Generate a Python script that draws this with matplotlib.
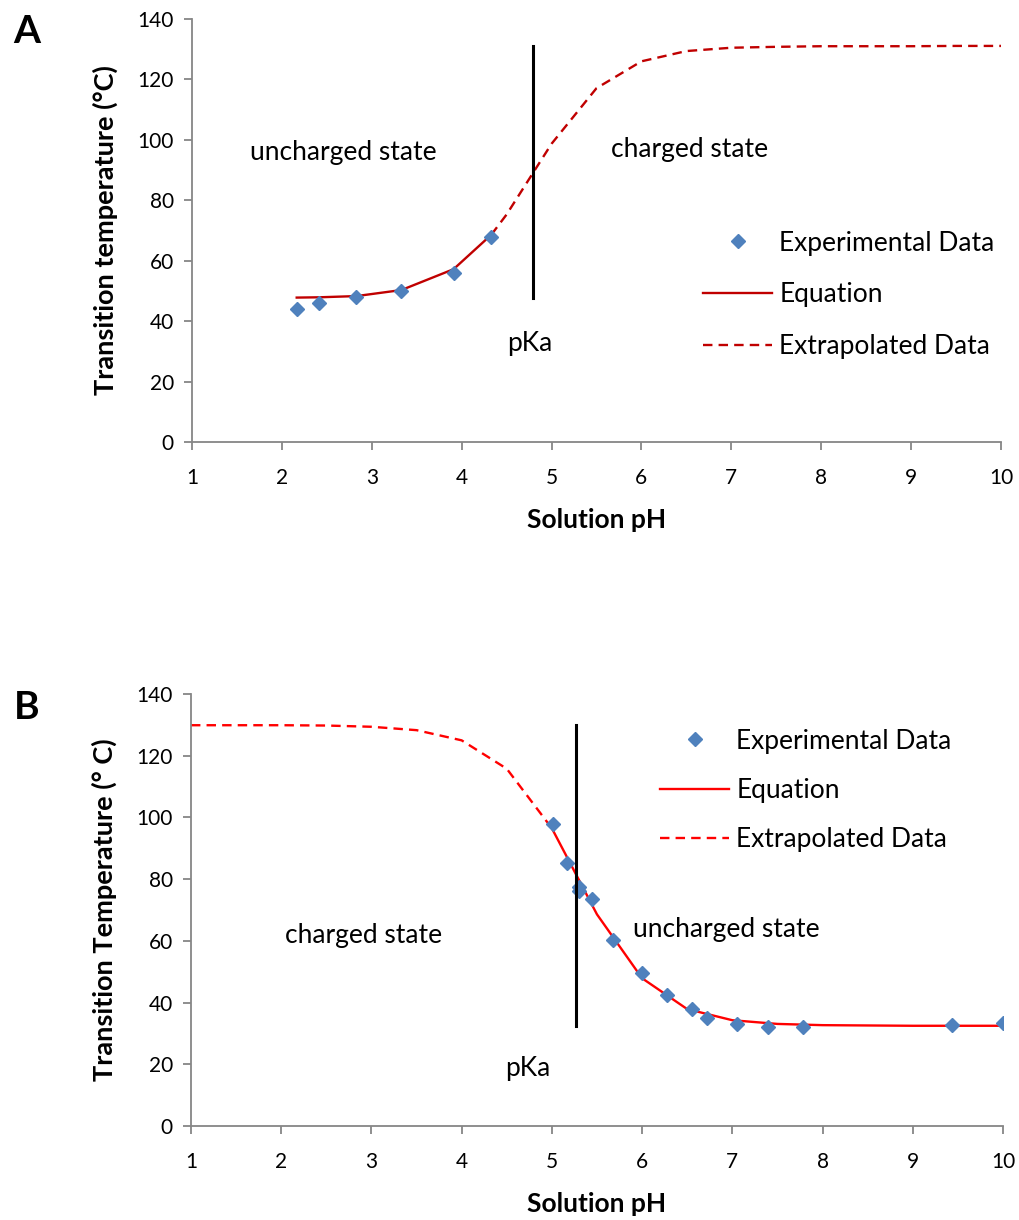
import matplotlib
matplotlib.use('Agg')
import matplotlib.pyplot as plt
from matplotlib.lines import Line2D

plt.rcParams['font.family'] = ['Lato', 'DejaVu Sans']

# panel A
a_exp_ph = [2.165, 2.416, 2.83, 3.33, 3.91, 4.33]
a_exp_t = [43.9, 45.9, 47.9, 50.0, 55.9, 67.9]
a_eq_ph = [2.165, 2.416, 2.83, 3.33, 3.91, 4.33]
a_eq_t = [47.8, 47.9, 48.3, 50.3, 57.2, 68.6]
a_ext_ph = [4.33, 4.5, 5.0, 5.5, 6.0, 6.5, 7.0, 7.5, 8.0, 8.5, 9.0, 9.5, 10.0]
a_ext_t = [68.6, 75.3, 98.7, 117.1, 126.0, 129.4, 130.5, 130.8, 131.0, 131.0, 131.0, 131.1, 131.1]
a_pka = 4.79
a_pka_span = [47.6, 131.0]

# panel B
b_exp_ph = [5.01, 5.17, 5.30, 5.30, 5.44, 5.68, 6.0, 6.28, 6.55, 6.72, 7.05, 7.40, 7.78, 9.44, 10.0]
b_exp_t = [97.8, 85.1, 77.6, 76.1, 73.6, 60.3, 49.6, 42.4, 37.9, 35.0, 33.0, 32.2, 32.0, 32.7, 33.3]
b_eq_ph = [5.0, 5.5, 6.0, 6.5, 7.0, 7.5, 8.0, 8.5, 9.0, 9.5, 10.0]
b_eq_t = [96.5, 68.6, 47.9, 37.9, 34.3, 33.1, 32.7, 32.6, 32.5, 32.5, 32.5]
b_ext_ph = [1.0, 1.5, 2.0, 2.5, 3.0, 3.5, 4.0, 4.5, 5.0]
b_ext_t = [129.9, 129.9, 129.9, 129.8, 129.4, 128.3, 125.0, 115.8, 96.5]
b_pka = 5.27
b_pka_span = [32.5, 130.0]

xticks = [1, 2, 3, 4, 5, 6, 7, 8, 9, 10]
yticks = [0, 20, 40, 60, 80, 100, 120, 140]

blue = '#4F81BD'
grey = '#868686'
txt_size = 19


def style_axes(ax, ylabel):
    ax.set_xlim(1, 10)
    ax.set_ylim(0, 140)
    ax.set_xticks(xticks)
    ax.set_yticks(yticks)
    for s in ['top', 'right']:
        ax.spines[s].set_visible(False)
    for s in ['left', 'bottom']:
        ax.spines[s].set_color(grey)
        ax.spines[s].set_linewidth(1.3)
    ax.tick_params(axis='both', colors=grey, length=6, width=1.3, labelsize=15,
                   labelcolor='black')
    ax.tick_params(axis='x', pad=13)
    ax.tick_params(axis='y', pad=7)
    ax.set_xlabel('Solution pH', fontsize=19, fontweight='bold', labelpad=14)
    ax.set_ylabel(ylabel, fontsize=19.5, fontweight='bold', labelpad=14)


def draw_panel(ax, exp_ph, exp_t, eq_ph, eq_t, ext_ph, ext_t, pka, span, col):
    ax.plot(ext_ph, ext_t, color=col, lw=1.7, dashes=(4, 2.6))
    ax.plot(eq_ph, eq_t, color=col, lw=1.7)
    ax.plot(exp_ph, exp_t, 'D', color=blue, markersize=7.5, lw=0)
    ax.plot([pka, pka], span, color='black', lw=2.2)


def make_legend(ax, col, anchor, spacing):
    handles = [Line2D([], [], marker='D', color=blue, lw=0, markersize=7.5),
               Line2D([], [], color=col, lw=1.7),
               Line2D([], [], color=col, lw=1.7, dashes=(4, 2.6))]
    labels = ['Experimental Data', 'Equation', 'Extrapolated Data']
    ax.legend(handles, labels, loc='upper left', bbox_to_anchor=anchor,
              frameon=False, fontsize=txt_size, handlelength=2.6, handletextpad=0.28,
              labelspacing=spacing, borderpad=0, borderaxespad=0)


fig = plt.figure(figsize=(10.19, 12.20), dpi=100)

axA = fig.add_axes([0.1884, 0.6377, 0.7939, 0.3467])
draw_panel(axA, a_exp_ph, a_exp_t, a_eq_ph, a_eq_t, a_ext_ph, a_ext_t,
           a_pka, a_pka_span, '#C00000')
style_axes(axA, 'Transition temperature (°C)')
make_legend(axA, '#C00000', (0.632, 0.500), 1.02)
axA.text(2.68, 95.7, 'uncharged state', fontsize=txt_size, ha='center', va='center')
axA.text(6.54, 96.7, 'charged state', fontsize=txt_size, ha='center', va='center')
axA.text(4.76, 32.5, 'pKa', fontsize=txt_size, ha='center', va='center')
fig.text(0.026, 0.974, 'A', fontsize=28, fontweight='bold', ha='center', va='center')

axB = fig.add_axes([0.1874, 0.0770, 0.7969, 0.3541])
draw_panel(axB, b_exp_ph, b_exp_t, b_eq_ph, b_eq_t, b_ext_ph, b_ext_t,
           b_pka, b_pka_span, '#FF0000')
style_axes(axB, 'Transition Temperature (° C)')
make_legend(axB, '#FF0000', (0.578, 0.920), 0.92)
axB.text(2.91, 61.9, 'charged state', fontsize=txt_size, ha='center', va='center')
axB.text(6.93, 63.8, 'uncharged state', fontsize=txt_size, ha='center', va='center')
axB.text(4.73, 18.8, 'pKa', fontsize=txt_size, ha='center', va='center')
fig.text(0.026, 0.420, 'B', fontsize=28, fontweight='bold', ha='center', va='center')

fig.savefig('out.png', dpi=100)
